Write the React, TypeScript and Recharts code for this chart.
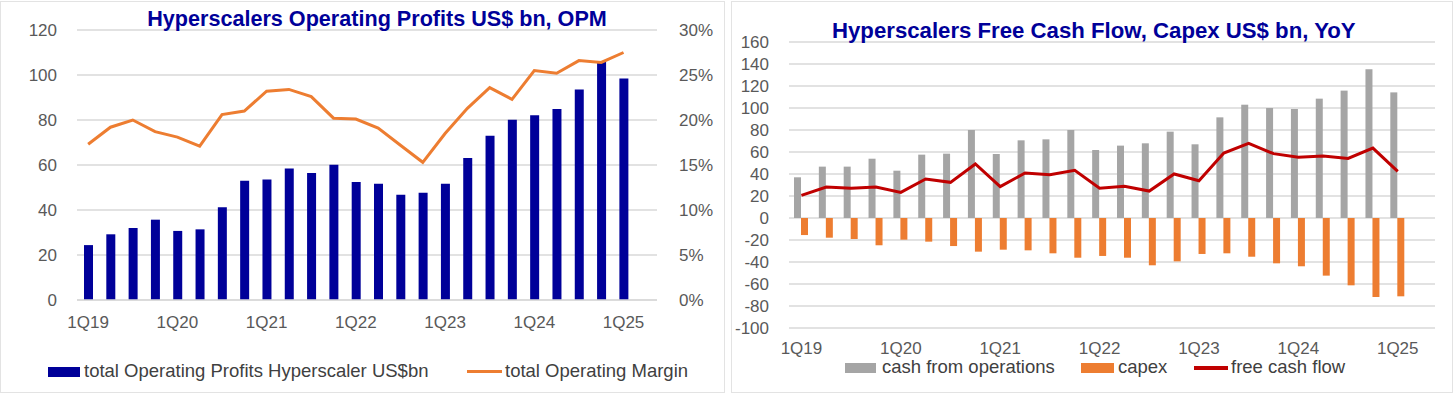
import React from 'react';
import { ComposedChart, Bar, Line, XAxis, YAxis, CartesianGrid } from 'recharts';

const quarters = [
  '1Q19', '2Q19', '3Q19', '4Q19', '1Q20', '2Q20', '3Q20', '4Q20',
  '1Q21', '2Q21', '3Q21', '4Q21', '1Q22', '2Q22', '3Q22', '4Q22',
  '1Q23', '2Q23', '3Q23', '4Q23', '1Q24', '2Q24', '3Q24', '4Q24',
  '1Q25', '2Q25',
];

// left chart: operating profit (US$ bn) and margin (%)
const opProfit = [24.4, 29.2, 32, 35.7, 30.7, 31.4, 41.2, 53, 53.6, 58.4, 56.4, 60.1, 52.4, 51.7, 46.8, 47.7, 51.7, 63.1, 73, 80.1, 82.1, 84.9, 93.6, 106.2, 98.5];
const opMargin = [17.3, 19.2, 20.0, 18.7, 18.1, 17.1, 20.6, 21.0, 23.2, 23.4, 22.6, 20.2, 20.1, 19.1, 17.2, 15.3, 18.5, 21.3, 23.6, 22.3, 25.5, 25.2, 26.6, 26.4, 27.5];

// right chart: cash from operations, capex, free cash flow (US$ bn)
const cashOps = [37, 46.7, 46.7, 53.9, 43, 57.6, 58.5, 80, 58.2, 70.6, 71.5, 80, 61.8, 65.8, 67.9, 78.5, 67, 91.5, 103, 100, 99.1, 108.5, 115.8, 135.2, 114.2];
const capex = [-15.5, -17.9, -19.1, -24.8, -19.7, -21.5, -25.5, -30.6, -28.8, -29.4, -32.1, -36.1, -34.5, -36.1, -43, -39.4, -32.7, -32.1, -35.2, -41.2, -43.9, -52.4, -61.2, -71.8, -71.2];
const fcf = [20.6, 28.2, 27, 28.2, 23.3, 35.5, 32.4, 49.1, 28.5, 40.9, 39.4, 43.3, 27, 28.8, 24.5, 40, 33.9, 59.1, 67.9, 58.5, 55.2, 56.4, 54.2, 63.6, 42.4];

const leftTicks = [0, 20, 40, 60, 80, 100, 120];
const marginTicks = [0, 5, 10, 15, 20, 25, 30];
const rightTicks = [-100, -80, -60, -40, -20, 0, 20, 40, 60, 80, 100, 120, 140, 160];

const data = quarters.map((q, i) => ({
  q,
  op: opProfit[i] ?? null,
  opm: opMargin[i] ?? null,
  cfo: cashOps[i] ?? null,
  capex: capex[i] ?? null,
  fcf: fcf[i] ?? null,
}));

const FONT = '"Liberation Sans", Arial, sans-serif';
const NAVY = '#000099';
const ORANGE = '#ED7D31';
const GREY = '#A5A5A5';
const RED = '#C00000';
const GRID = '#D9D9D9';
const tick = { fill: '#595959', fontSize: 17, fontFamily: FONT };
const qFmt = (v: string) => (v.startsWith('1Q') ? v : '');

const legendText: React.CSSProperties = { position: 'absolute', fontSize: 18.5, color: '#404040', lineHeight: '20px', whiteSpace: 'nowrap' };

export default function App() {
  return (
    <div style={{ position: 'relative', width: 1456, height: 394, background: '#fff', fontFamily: FONT, overflow: 'hidden' }}>
      <style>{'body{margin:0}'}</style>
      <div style={{ position: 'absolute', left: 0, top: 1, width: 725, height: 392, border: '1px solid #E3E3E3', boxSizing: 'border-box' }} />
      <div style={{ position: 'absolute', left: 731, top: 1, width: 722, height: 392, border: '1px solid #E3E3E3', boxSizing: 'border-box' }} />

      {/* left chart */}
      <div style={{ position: 'absolute', left: 0, top: 0 }}>
        <ComposedChart width={720} height={394} data={data} margin={{ top: 30, right: 0, bottom: 64, left: 0 }}>
          <CartesianGrid yAxisId="l" vertical={false} stroke={GRID} strokeWidth={1.5} />
          <XAxis dataKey="q" interval={3} tickFormatter={qFmt} tick={tick} tickLine={false} axisLine={{ stroke: GRID, strokeWidth: 1.5 }} height={30} tickMargin={10} />
          <YAxis yAxisId="l" domain={[0, 120]} ticks={leftTicks} width={77} tick={tick} tickLine={false} axisLine={false} tickMargin={14} />
          <YAxis yAxisId="r" orientation="right" domain={[0, 30]} ticks={marginTicks} tickFormatter={(v: number) => `${v}%`} width={63} tick={tick} tickLine={false} axisLine={false} tickMargin={16} />
          <Bar yAxisId="l" dataKey="op" fill={NAVY} barSize={9} isAnimationActive={false} />
          <Line yAxisId="r" dataKey="opm" stroke={ORANGE} strokeWidth={3} dot={false} type="linear" isAnimationActive={false} />
        </ComposedChart>
      </div>
      <div style={{ position: 'absolute', left: 0, width: 725, top: 6, textAlign: 'center', paddingLeft: 29, boxSizing: 'border-box', fontSize: 21.6, fontWeight: 700, color: NAVY }}>
        Hyperscalers Operating Profits US$ bn, OPM
      </div>
      <div style={{ position: 'absolute', left: 48, top: 367, width: 32, height: 10, background: NAVY }} />
      <div style={{ ...legendText, left: 84, top: 361 }}>total Operating Profits Hyperscaler US$bn</div>
      <div style={{ position: 'absolute', left: 467, top: 370, width: 35, height: 3, background: ORANGE }} />
      <div style={{ ...legendText, left: 505, top: 361 }}>total Operating Margin</div>

      {/* right chart */}
      <div style={{ position: 'absolute', left: 728, top: 0 }}>
        <ComposedChart width={720} height={394} data={data} margin={{ top: 42, right: 13, bottom: 36, left: 0 }} barGap={0}>
          <CartesianGrid vertical={false} stroke={GRID} strokeWidth={1.5} />
          <XAxis dataKey="q" interval={3} tickFormatter={qFmt} tick={tick} tickLine={false} axisLine={false} height={30} tickMargin={8} />
          <YAxis domain={[-100, 160]} ticks={rightTicks} width={61} tick={tick} tickLine={false} axisLine={false} tickMargin={14} interval={0} />
          <Bar dataKey="cfo" fill={GREY} barSize={7} isAnimationActive={false} />
          <Bar dataKey="capex" fill={ORANGE} barSize={7} isAnimationActive={false} />
          <Line dataKey="fcf" stroke={RED} strokeWidth={3} dot={false} type="linear" isAnimationActive={false} />
        </ComposedChart>
      </div>
      <div style={{ position: 'absolute', left: 832, top: 18, fontSize: 22.2, fontWeight: 700, color: NAVY, whiteSpace: 'nowrap' }}>
        Hyperscalers Free Cash Flow, Capex US$ bn, YoY
      </div>
      <div style={{ position: 'absolute', left: 845, top: 363, width: 31, height: 10, background: GREY }} />
      <div style={{ ...legendText, left: 882, top: 357 }}>cash from operations</div>
      <div style={{ position: 'absolute', left: 1081, top: 363, width: 33, height: 10, background: ORANGE }} />
      <div style={{ ...legendText, left: 1118, top: 357 }}>capex</div>
      <div style={{ position: 'absolute', left: 1194, top: 366, width: 34, height: 4, background: RED }} />
      <div style={{ ...legendText, left: 1231, top: 357 }}>free cash flow</div>
    </div>
  );
}
